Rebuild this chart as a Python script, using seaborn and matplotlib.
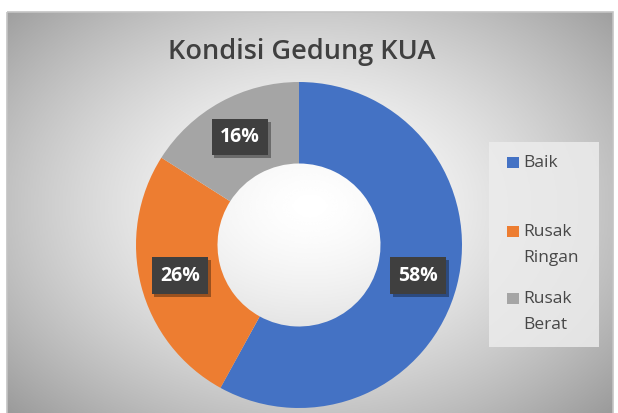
import numpy as np
import matplotlib
matplotlib.use('Agg')
import matplotlib.pyplot as plt
from matplotlib.patches import Rectangle
import matplotlib.patheffects as pe
import seaborn as sns

# data
categories = ['Baik', 'Rusak\nRingan', 'Rusak\nBerat']
shares = [58, 26, 16]
colors = ['#4472c4', '#ed7d31', '#a5a5a5']
title = 'Kondisi Gedung KUA'

sns.set_theme(style='white')
plt.rcParams['font.family'] = ['Open Sans', 'DejaVu Sans']

W, H = 618, 413
fig = plt.figure(figsize=(W / 100, H / 100), dpi=100)


def fx(x):
    return x / W


def fy(y):
    return 1 - y / H


# chart area: white margin, light frame, radial gradient inside
bg = fig.add_axes([0, 0, 1, 1], zorder=-1)
bg.set_xlim(0, W)
bg.set_ylim(H, 0)
bg.axis('off')
xx, yy = np.meshgrid(np.linspace(-1, 1, 400), np.linspace(-1, 1, 300))
dist = np.sqrt((xx / 1.0) ** 2 + ((yy + 0.05) / 1.05) ** 2)
shade = 1 - 0.24 * np.clip(dist, 0, 1.4) ** 1.5
bg.imshow(shade, cmap='gray', vmin=0, vmax=1, extent=[7, 613, 420, 12],
          aspect='auto', interpolation='bicubic')
bg.add_patch(Rectangle((7, 12), 606, 410, fill=False, edgecolor='#c4c4c4', lw=1.2))

# donut
cx, cy, R = 299, 245, 163
ax = fig.add_axes([fx(cx - R), fy(cy + R), 2 * R / W, 2 * R / H])
wedges, _ = ax.pie(shares, colors=colors, startangle=90, counterclock=False,
                   radius=1, wedgeprops=dict(width=0.5, edgecolor='none'))
ax.set_xlim(-1, 1)
ax.set_ylim(-1, 1)
ax.axis('off')

shadow = [pe.withSimplePatchShadow(offset=(2, -2), shadow_rgbFace='black', alpha=0.35)]
for w, v in zip(wedges, shares):
    ang = np.deg2rad((w.theta1 + w.theta2) / 2)
    t = ax.text(0.755 * np.cos(ang), 0.755 * np.sin(ang), f'{v}%', ha='center', va='center',
                color='white', fontsize=14, fontweight='bold',
                bbox=dict(boxstyle='square,pad=0.42', facecolor='#3f3f3f', edgecolor='none'))
    t.get_bbox_patch().set_path_effects(shadow)

fig.text(fx(302), fy(52), title, ha='center', va='center', fontsize=19.5,
         fontweight='semibold', color='#404040')

# legend (Excel style: squares aligned with first line of each label)
bg.add_patch(Rectangle((489, 142), 110, 205, facecolor='#ececec', edgecolor='none', alpha=0.85))
rows = [163, 232, 299]
for y0, lab, c in zip(rows, categories, colors):
    bg.add_patch(Rectangle((507, y0 - 6), 12, 11, facecolor=c, edgecolor='none'))
    for k, line in enumerate(lab.split('\n')):
        bg.text(523, y0 + 26 * k, line, ha='left', va='center', fontsize=12.5, color='#474747')

fig.savefig('out.png', dpi=100)
